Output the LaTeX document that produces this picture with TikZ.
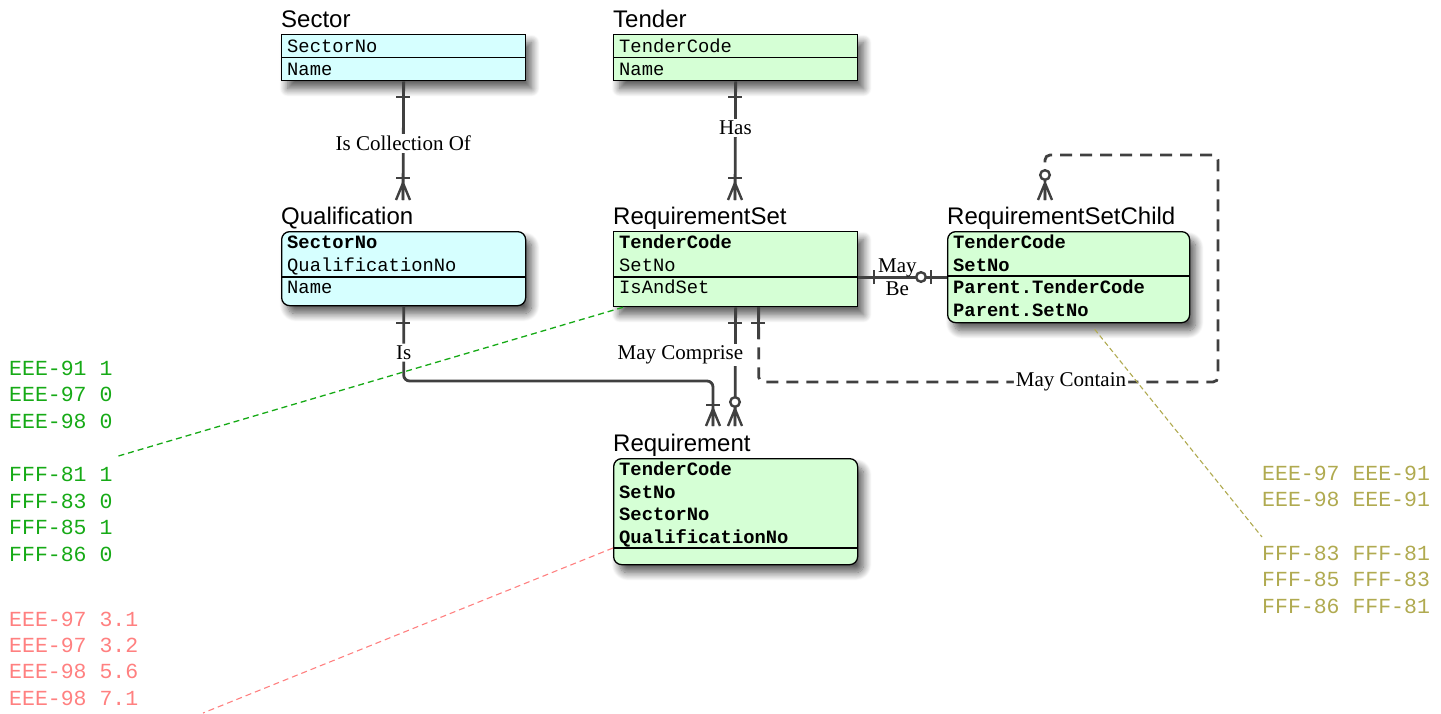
\documentclass[tikz,border=0pt]{standalone}
\usepackage{fontspec}
\setmainfont{Liberation Serif}
\setmonofont{Liberation Mono}
\newfontfamily\titlefont{Liberation Sans}
\usetikzlibrary{shadows.blur}

\definecolor{keycyan}{RGB}{214,255,255}
\definecolor{keygreen}{RGB}{213,255,213}
\definecolor{linkgray}{RGB}{64,64,64}
\definecolor{notegreen}{RGB}{22,170,22}
\definecolor{notered}{RGB}{255,128,128}
\definecolor{noteolive}{RGB}{176,170,80}

\tikzset{
  entitybox/.style={draw=black, line width=1.3pt, inner sep=0pt, anchor=north west, minimum width=244pt,
    blur shadow={shadow xshift=6pt, shadow yshift=-8pt, shadow blur radius=8pt, shadow blur steps=12, shadow opacity=65}},
  roundbox/.style={rounded corners=8pt},
  titletext/.style={font=\titlefont\fontsize{24}{28}\selectfont, anchor=base west, inner sep=0pt},
  fieldtext/.style={font=\ttfamily\fontsize{18.8}{22}\selectfont, anchor=base west, inner sep=0pt},
  keytext/.style={fieldtext, font=\ttfamily\bfseries\fontsize{18.8}{22}\selectfont},
  linkline/.style={draw=linkgray, line width=2.8pt},
  rellabel/.style={font=\fontsize{21}{23}\selectfont, fill=white, inner sep=2pt},
  notetext/.style={font=\ttfamily\fontsize{21.5}{26}\selectfont, anchor=west, inner sep=0pt},
  onebar/.pic={\draw[linkgray, line width=2.4pt] (-7,0) -- (7,0);},
  crowfoot/.pic={\draw[linkgray, line width=2.4pt] (-7,0) -- (0,-17) -- (7,0) (0,-17) -- (0,0);},
  ringmark/.pic={\draw[linkgray, line width=2.4pt, fill=white] (0,0) circle (4.8pt);}
}

\begin{document}
\begin{tikzpicture}[x=1pt,y=-1pt]
\useasboundingbox (0,0) rectangle (1441,713);

\node[entitybox, fill=keycyan, minimum height=46pt] (sector) at (281,34) {};
\node[titletext] (sectorT) at (281,27) {Sector};
\draw[line width=1.3pt] (sector.west) -- (sector.east);
\node[fieldtext] (sector1) at (287,52) {SectorNo};
\node[fieldtext] (sector2) at (287,75) {Name};

\node[entitybox, fill=keygreen, minimum height=46pt] (tender) at (613,34) {};
\node[titletext] (tenderT) at (613,27) {Tender};
\draw[line width=1.3pt] (tender.west) -- (tender.east);
\node[fieldtext] (tender1) at (619,52) {TenderCode};
\node[fieldtext] (tender2) at (619,75) {Name};

\node[entitybox, roundbox, fill=keycyan, minimum height=74pt] (qual) at (281,231) {};
\node[titletext] (qualT) at (281,224) {Qualification};
\draw[line width=1.3pt] ([yshift=-46pt]qual.north west) -- ([yshift=-46pt]qual.north east);
\node[keytext] (qual1) at (287,248.5) {SectorNo};
\node[fieldtext] (qual2) at (287,271.2) {QualificationNo};
\node[fieldtext] (qual3) at (287,293.9) {Name};

\node[entitybox, fill=keygreen, minimum height=75pt] (rset) at (613,231) {};
\node[titletext] (rsetT) at (613,224) {RequirementSet};
\draw[line width=1.3pt] ([yshift=-46pt]rset.north west) -- ([yshift=-46pt]rset.north east);
\node[keytext] (rset1) at (619,248.5) {TenderCode};
\node[fieldtext] (rset2) at (619,271.2) {SetNo};
\node[fieldtext] (rset3) at (619,293.9) {IsAndSet};

\node[entitybox, roundbox, fill=keygreen, minimum width=242pt, minimum height=91pt] (rsetchild) at (947,231) {};
\node[titletext] (rsetchildT) at (947,224) {RequirementSetChild};
\draw[line width=1.3pt] ([yshift=-45pt]rsetchild.north west) -- ([yshift=-45pt]rsetchild.north east);
\node[keytext] (rsetchild1) at (953,248.5) {TenderCode};
\node[keytext] (rsetchild2) at (953,271.2) {SetNo};
\node[keytext] (rsetchild3) at (953,293.9) {Parent.TenderCode};
\node[keytext] (rsetchild4) at (953,316.6) {Parent.SetNo};

\node[entitybox, roundbox, fill=keygreen, minimum height=106pt] (req) at (613,458) {};
\node[titletext] (reqT) at (613,451) {Requirement};
\draw[line width=1.3pt] ([yshift=-90pt]req.north west) -- ([yshift=-90pt]req.north east);
\node[keytext] (req1) at (619,475.5) {TenderCode};
\node[keytext] (req2) at (619,498.2) {SetNo};
\node[keytext] (req3) at (619,520.9) {SectorNo};
\node[keytext] (req4) at (619,543.6) {QualificationNo};

\coordinate (qualtop) at (403,200);
\coordinate (rsettop) at (735,200);
\coordinate (isbend) at (713,381);
\coordinate (reqleft) at (713,426);
\coordinate (reqmid) at (735,426);
\coordinate (loopcorner) at (1218,382);
\coordinate (looptop) at (1218,155);
\coordinate (childtop) at (1045,200);

\draw[linkline] (sector.south) -- node[rellabel, pos=0.52] {Is Collection Of} (qualtop);
\draw[linkline] (tender.south) -- node[rellabel, pos=0.39] {Has} (rsettop);
\draw[linkline] (rset.east |- rsetchild.west) -- node[pos=0.44, align=center, inner sep=0pt, font=\fontsize{21}{23}\selectfont] {May\\Be} (rsetchild.west);
\draw[linkline, rounded corners=6pt] (qual.south) |- node[rellabel, pos=0.31] {Is} (isbend) -- (reqleft);
\draw[linkline] (rset.south) -- node[rellabel, pos=0.40, xshift=-55pt] {May Comprise} (reqmid);
\draw[linkline, dash pattern=on 12pt off 8pt, rounded corners=5pt] ([xshift=23pt]rset.south) |- node[rellabel, pos=0.84] {May Contain} (loopcorner) -- (looptop) -| (childtop);
\draw[linkline] ([xshift=23pt]rset.south) -- ++(0,32);

\pic at (403,97) {onebar};
\pic at (403,178) {onebar};
\pic at (403,200) {crowfoot};
\pic at (735,97) {onebar};
\pic at (735,178) {onebar};
\pic at (735,200) {crowfoot};
\pic[rotate=90] at (874,277) {onebar};
\pic at (921,277) {ringmark};
\pic[rotate=90] at (931,277) {onebar};
\pic at (403,323) {onebar};
\pic at (713,405) {onebar};
\pic at (713,426) {crowfoot};
\pic at (735,323) {onebar};
\pic at (735,402) {ringmark};
\pic at (735,426) {crowfoot};
\pic at (758,323) {onebar};
\pic at (1045,175) {ringmark};
\pic at (1045,200) {crowfoot};

\coordinate (greenend) at (115,457);
\coordinate (redend) at (203,713);
\coordinate (oliveend) at (1262,537);
\draw[notegreen, line width=1.3pt, dash pattern=on 6pt off 4pt] ([xshift=10pt]rset.south west) -- (greenend);
\draw[notered, line width=1.1pt, dash pattern=on 6pt off 4pt] ([yshift=-90pt]req.north west) -- (redend);
\draw[noteolive, line width=1.1pt, dash pattern=on 5pt off 3pt] ([xshift=26pt, yshift=-6pt]rsetchild.south) -- (oliveend);

\foreach \t/\i in {EEE-91 1/0, EEE-97 0/1, EEE-98 0/2, FFF-81 1/4, FFF-83 0/5, FFF-85 1/6, FFF-86 0/7}
  \node[notetext, notegreen] (gnote\i) at (9,{368+26.6*\i}) {\t};
\foreach \t/\i in {EEE-97 3.1/0, EEE-97 3.2/1, EEE-98 5.6/2, EEE-98 7.1/3}
  \node[notetext, notered] (rnote\i) at (9,{619+26.4*\i}) {\t};
\foreach \t/\i in {EEE-97 EEE-91/0, EEE-98 EEE-91/1, FFF-83 FFF-81/3, FFF-85 FFF-83/4, FFF-86 FFF-81/5}
  \node[notetext, noteolive] (onote\i) at (1262,{473.3+26.6*\i}) {\t};
\end{tikzpicture}
\end{document}
